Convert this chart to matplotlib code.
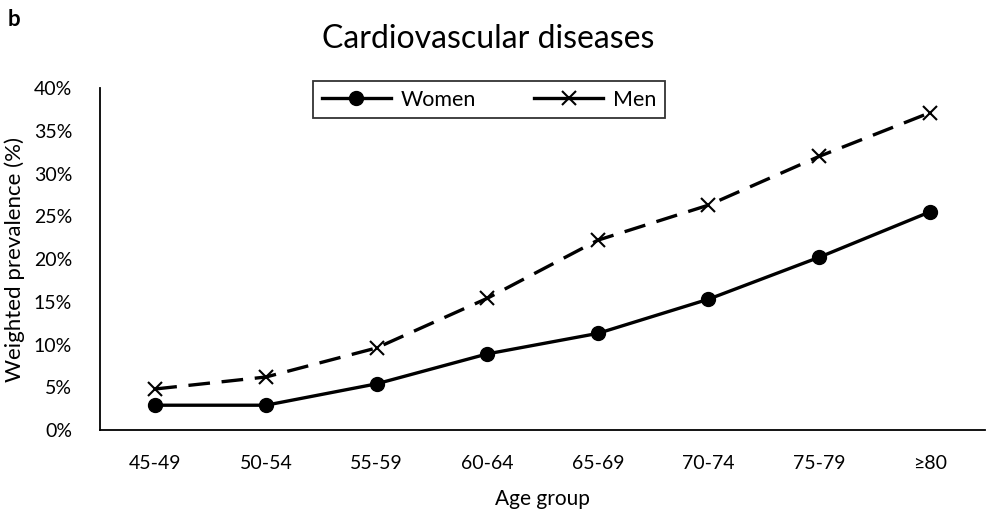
import matplotlib
matplotlib.use("Agg")
import matplotlib.pyplot as plt
from matplotlib.ticker import FuncFormatter
from matplotlib.lines import Line2D

categories = ["45-49", "50-54", "55-59", "60-64", "65-69", "70-74", "75-79", "≥80"]
women = [2.9, 2.9, 5.4, 8.9, 11.3, 15.3, 20.2, 25.5]
men = [4.8, 6.2, 9.6, 15.4, 22.2, 26.3, 32.0, 37.1]
yticks = [0, 5, 10, 15, 20, 25, 30, 35, 40]

plt.rcParams['font.family'] = ['Lato', 'DejaVu Sans']

fig = plt.figure(figsize=(9.88, 5.14), dpi=100)
ax = fig.add_axes([0.1012, 0.1634, 0.8958, 0.6654])
x = list(range(len(categories)))
ax.plot(x, women, color='black', lw=2.4, marker='o', ms=10, label='Women')
ax.plot(x, men, color='black', lw=2.4, ls=(0, (6.5, 3.5)), marker='x', ms=10, mew=1.5, label='Men')

ax.set_xlim(-0.5, len(categories) - 0.5)
ax.set_ylim(0, 40)
ax.set_yticks(yticks)
ax.yaxis.set_major_formatter(FuncFormatter(lambda v, p: f"{int(v)}%"))
ax.set_xticks(x)
ax.set_xticklabels(categories)
ax.tick_params(length=0, labelsize=14, pad=18)
ax.tick_params(axis='y', pad=20)
for s in ['top', 'right']:
    ax.spines[s].set_visible(False)
for s in ['left', 'bottom']:
    ax.spines[s].set_linewidth(1.3)
ax.set_xlabel("Age group", fontsize=15, labelpad=12)
ax.set_ylabel("Weighted prevalence (%)", fontsize=16, labelpad=6)

fig.text(0.494, 0.925, "Cardiovascular diseases", ha='center', va='center', fontsize=23)
fig.text(0.008, 0.962, "b", ha='left', va='center', fontsize=16, fontweight='bold')

handles = [
    Line2D([], [], color='black', lw=2.4, marker='o', ms=10),
    Line2D([], [], color='black', lw=2.4, marker='x', ms=10, mew=1.5),
]
leg = ax.legend(handles, ['Women', 'Men'], loc='upper left', bbox_to_anchor=(0.2407, 1.02, 0.3977, 0),
                mode='expand', ncol=2, frameon=True, fancybox=False, edgecolor='black', fontsize=15.5,
                handlelength=3.2, handletextpad=0.45, columnspacing=1.2, borderpad=0.4,
                borderaxespad=0)
leg.get_frame().set_linewidth(1.3)

fig.savefig("out.png", dpi=100)
